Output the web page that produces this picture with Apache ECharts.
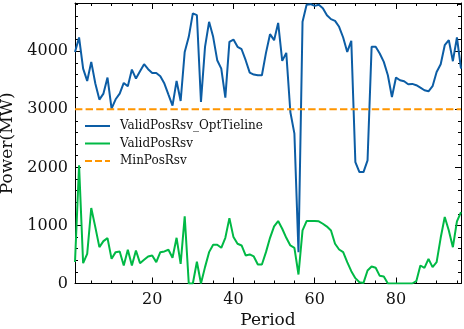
<!DOCTYPE html>
<html><head><meta charset="utf-8">
<script src="https://cdn.jsdelivr.net/npm/echarts@6/dist/echarts.min.js"></script>
<style>html,body{margin:0;padding:0;background:#fff}#c{width:464px;height:329px}</style>
</head><body><div id="c"></div>
<script>
const periods = [1,2,3,4,5,6,7,8,9,10,11,12,13,14,15,16,17,18,19,20,21,22,23,24,25,26,27,28,29,30,31,32,33,34,35,36,37,38,39,40,41,42,43,44,45,46,47,48,49,50,51,52,53,54,55,56,57,58,59,60,61,62,63,64,65,66,67,68,69,70,71,72,73,74,75,76,77,78,79,80,81,82,83,84,85,86,87,88,89,90,91,92,93,94,95,96];
const validPosRsvOptTieline = [3988,4236,3700,3488,3816,3443,3167,3270,3546,3012,3172,3270,3454,3397,3684,3529,3655,3776,3690,3626,3626,3569,3443,3253,3064,3488,3143,3988,4247,4650,4620,3126,4075,4506,4247,3845,3700,3201,4161,4201,4075,4034,3845,3632,3598,3586,3586,3971,4293,4190,4488,3833,3971,2954,2580,540,4506,4800,4810,4780,4800,4740,4620,4552,4523,4420,4236,3988,4178,2091,1919,1919,2120,4075,4075,3960,3816,3586,3212,3546,3500,3483,3431,3437,3414,3374,3328,3310,3397,3643,3776,4103,4190,3828,4236,3700];
const validPosRsv = [370,2034,350,511,1299,971,626,730,782,425,540,552,310,581,310,569,350,408,466,483,368,540,552,581,443,787,339,1155,0,0,375,0,282,540,667,667,615,787,1126,799,684,655,483,500,466,328,328,540,787,983,1075,943,787,655,615,155,914,1075,1075,1075,1070,1029,980,914,684,586,540,368,213,92,23,10,224,293,270,132,121,0,0,0,0,0,0,0,40,310,270,425,282,368,787,1144,914,626,1069,1230];
const minPosRsvPeriods = [1,96];
const minPosRsv = [3000,3000];
const xMajorTicks = [20,40,60,80];
const xMinorTicks = [5,10,15,25,30,35,45,50,55,65,70,75,85,90,95];
const yMajorTicks = [0,1000,2000,3000,4000];
const yMinorTicks = [200,400,600,800,1200,1400,1600,1800,2200,2400,2600,2800,3200,3400,3600,3800,4200,4400,4600,4800];
const seriesNames = ['ValidPosRsv_OptTieline','ValidPosRsv','MinPosRsv'];

const FONT = 'DejaVu Serif';
const X_MIN = 1, X_MAX = 96, Y_MIN = 0, Y_MAX = 4830;

function xAx(pos, ticks, len, labels, line) {
  return {
    type: 'value', position: pos, min: X_MIN, max: X_MAX, gridIndex: 0,
    axisLine: {show: line, onZero: false, lineStyle: {color: '#000', width: 1}},
    axisTick: {show: true, inside: true, length: len, customValues: ticks, lineStyle: {color: '#000', width: 1}},
    axisLabel: {show: labels, customValues: ticks, fontFamily: FONT, fontSize: 16, color: '#111', margin: 8,
                formatter: v => String(v)},
    splitLine: {show: false}
  };
}
function yAx(pos, ticks, len, labels, line) {
  return {
    type: 'value', position: pos, min: Y_MIN, max: Y_MAX, gridIndex: 0,
    axisLine: {show: line, onZero: false, lineStyle: {color: '#000', width: 1}},
    axisTick: {show: true, inside: true, length: len, customValues: ticks, lineStyle: {color: '#000', width: 1}},
    axisLabel: {show: labels, customValues: ticks, fontFamily: FONT, fontSize: 16, color: '#111', margin: 7,
                formatter: v => String(v)},
    splitLine: {show: false}
  };
}
const xAxes = [xAx('bottom', xMajorTicks, 6, true, true), xAx('bottom', xMinorTicks, 3, false, false),
               xAx('top', xMajorTicks, 6, false, true), xAx('top', xMinorTicks, 3, false, false)];
xAxes[0].name = 'Period'; xAxes[0].nameLocation = 'middle'; xAxes[0].nameGap = 29;
xAxes[0].nameTextStyle = {fontFamily: FONT, fontSize: 17, color: '#111'};
const yAxes = [yAx('left', yMajorTicks, 6, true, true), yAx('left', yMinorTicks, 3, false, false),
               yAx('right', yMajorTicks, 6, false, true), yAx('right', yMinorTicks, 3, false, false)];
yAxes[0].name = 'Power(MW)'; yAxes[0].nameLocation = 'middle'; yAxes[0].nameGap = 55;
yAxes[0].nameTextStyle = {fontFamily: FONT, fontSize: 17, color: '#111'};

const solidIcon = 'path://M0,0 L25,0 L25,2 L0,2 Z';
const dashIcon = 'path://M0,0 L7,0 L7,2 L0,2 Z M10,0 L17,0 L17,2 L10,2 Z M20,0 L25,0 L25,2 L20,2 Z';

const chart = echarts.init(document.getElementById('c'), null, {renderer: 'canvas'});
chart.setOption({
  animation: false,
  backgroundColor: '#fff',
  grid: {left: 75, right: 3, top: 3, bottom: 45.5, containLabel: false, outerBoundsMode: 'none'},
  legend: {
    orient: 'vertical', left: 80, top: 114.5, itemWidth: 25, itemHeight: 2, itemGap: 4.5,
    data: [
      {name: seriesNames[0], icon: solidIcon},
      {name: seriesNames[1], icon: solidIcon},
      {name: seriesNames[2], icon: dashIcon}
    ],
    textStyle: {fontFamily: FONT, fontSize: 12, lineHeight: 13, color: '#111', padding: [0,0,0,5]}
  },
  xAxis: xAxes,
  yAxis: yAxes,
  series: [
    {name: seriesNames[0], type: 'line', showSymbol: false, symbol: 'none',
     data: periods.map((p, i) => [p, validPosRsvOptTieline[i]]),
     lineStyle: {color: '#0C5DA5', width: 2}, itemStyle: {color: '#0C5DA5'}, z: 3},
    {name: seriesNames[1], type: 'line', showSymbol: false, symbol: 'none',
     data: periods.map((p, i) => [p, validPosRsv[i]]),
     lineStyle: {color: '#00B945', width: 2}, itemStyle: {color: '#00B945'}, z: 2},
    {name: seriesNames[2], type: 'line', showSymbol: false, symbol: 'none',
     data: minPosRsvPeriods.map((p, i) => [p, minPosRsv[i]]),
     lineStyle: {color: '#FF9500', width: 2, type: [7.4, 3.2]}, itemStyle: {color: '#FF9500'}, z: 4}
  ]
});
</script></body></html>
